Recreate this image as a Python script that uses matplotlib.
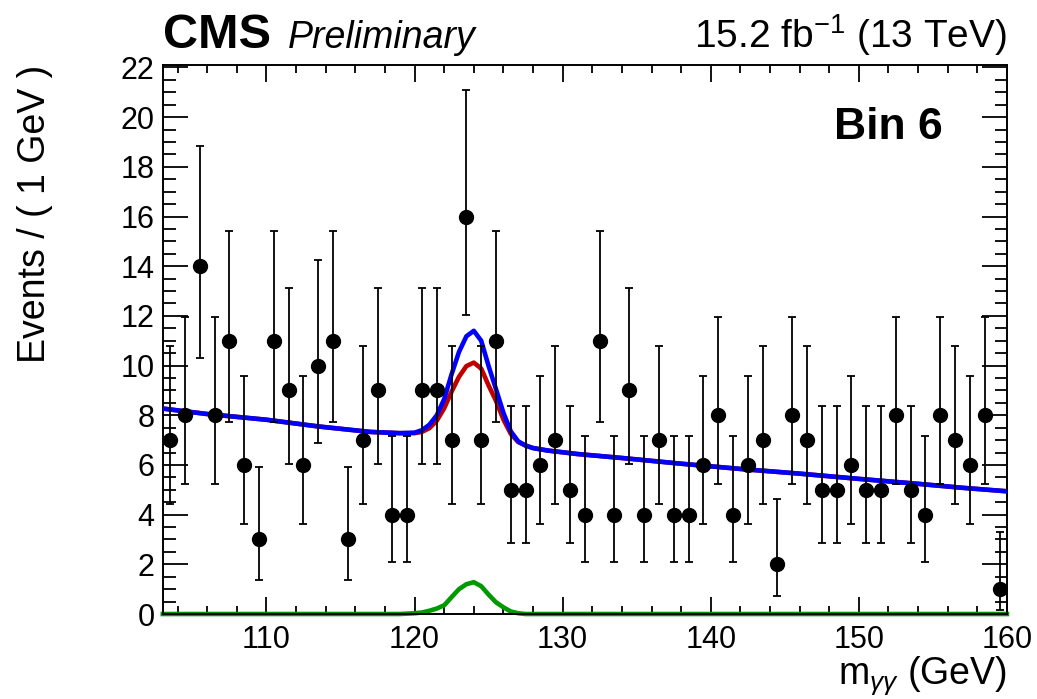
import math
import numpy as np
import matplotlib
matplotlib.use("Agg")
import matplotlib.pyplot as plt
from matplotlib.ticker import MultipleLocator

plt.rcParams['font.family'] = ['Liberation Sans', 'DejaVu Sans']
plt.rcParams['mathtext.fontset'] = 'custom'
plt.rcParams['mathtext.rm'] = 'Liberation Sans'
plt.rcParams['mathtext.it'] = 'Liberation Sans:italic'
plt.rcParams['mathtext.bf'] = 'Liberation Sans:bold'

# binned data: 1 GeV bins from 103 to 160
bin_lo, bin_hi = 103, 160
counts = [7, 8, 14, 8, 11, 6, 3, 11, 9, 6, 10, 11, 3, 7, 9, 4, 4, 9, 9, 7,
          16, 7, 11, 5, 5, 6, 7, 5, 4, 11, 4, 9, 4, 7, 4, 4, 6, 8, 4, 6,
          7, 2, 8, 7, 5, 5, 6, 5, 5, 8, 5, 4, 8, 7, 6, 8, 1]

# fit curves
curve_m = [103, 106, 110, 113.5, 117, 119, 120, 120.5, 121, 121.5, 122, 122.5,
           123, 123.5, 124, 124.5, 125, 125.5, 126, 126.5, 127, 127.5, 128,
           129, 131, 134, 138, 142, 146, 150, 154, 157, 160]
total_fit = [8.27, 8.05, 7.82, 7.55, 7.33, 7.28, 7.30, 7.40, 7.62, 8.00, 8.65,
             9.65, 10.55, 11.18, 11.40, 11.00, 9.98, 9.05, 8.10, 7.35, 6.95,
             6.78, 6.68, 6.58, 6.44, 6.28, 6.05, 5.84, 5.65, 5.44, 5.24, 5.08, 4.94]
partial_fit = [8.27, 8.05, 7.82, 7.55, 7.33, 7.28, 7.28, 7.33, 7.48, 7.78, 8.28,
               8.95, 9.55, 9.98, 10.12, 9.88, 9.20, 8.58, 7.83, 7.25, 6.92,
               6.78, 6.68, 6.58, 6.44, 6.28, 6.05, 5.84, 5.65, 5.44, 5.24, 5.08, 4.94]
signal_fit = [0, 0, 0, 0, 0, 0, 0.03, 0.06, 0.13, 0.22, 0.35, 0.68, 1.00, 1.20,
              1.28, 1.12, 0.78, 0.47, 0.27, 0.10, 0.03, 0, 0, 0, 0, 0, 0, 0,
              0, 0, 0, 0, 0]


def pois_cdf(k, mu):
    return sum(math.exp(-mu) * mu ** i / math.factorial(i) for i in range(k + 1))


def garwood(n, a=0.158655):
    # 68% central Poisson interval, like RooFit data points
    def solve(f):
        lo, hi = 0.0, 60.0
        for _ in range(80):
            mid = 0.5 * (lo + hi)
            if f(mid):
                hi = mid
            else:
                lo = mid
        return 0.5 * (lo + hi)
    low = 0.0 if n == 0 else solve(lambda mu: 1 - pois_cdf(n - 1, mu) > a)
    up = solve(lambda mu: pois_cdf(n, mu) < a)
    return n - low, up - n


centers = np.arange(bin_lo, bin_hi) + 0.5
errs = np.array([garwood(n) for n in counts]).T

fig = plt.figure(figsize=(10.37, 6.99), dpi=100)
ax = fig.add_axes([0.157, 0.1216, 0.814, 0.7854])

ax.plot(curve_m, signal_fit, color='#009900', lw=3.3, clip_on=False, zorder=2)
ax.plot(curve_m, partial_fit, color='#c00000', lw=3.3, zorder=3)
ax.plot(curve_m, total_fit, color='#0000ff', lw=3.3, zorder=4)
ax.errorbar(centers, counts, yerr=errs, fmt='o', color='black', ms=10,
            elinewidth=1.3, capsize=3, capthick=1.3, zorder=5)

ax.set_xlim(bin_lo, bin_hi)
ax.set_ylim(0, 22.1)
ax.xaxis.set_major_locator(MultipleLocator(10))
ax.xaxis.set_minor_locator(MultipleLocator(2))
ax.yaxis.set_major_locator(MultipleLocator(2))
ax.yaxis.set_minor_locator(MultipleLocator(0.5))
ax.tick_params(axis='x', which='both', direction='in', top=True, width=1.3,
               labelsize=22, pad=8)
ax.tick_params(axis='y', which='both', direction='in', right=True, width=1.3,
               labelsize=22, pad=6)
ax.tick_params(axis='x', which='major', length=12)
ax.tick_params(axis='x', which='minor', length=6)
ax.tick_params(axis='y', which='major', length=18)
ax.tick_params(axis='y', which='minor', length=9)
for s in ax.spines.values():
    s.set_linewidth(1.4)

fig.text(0.034, 0.907, 'Events / ( 1 GeV )', rotation=90, ha='center',
         va='top', fontsize=27)
fig.text(0.971, 0.034, r'm$_{\gamma\gamma}$ (GeV)', ha='right', va='center',
         fontsize=27)
fig.text(0.157, 0.932, 'CMS', fontsize=35, fontweight='bold', va='baseline')
fig.text(0.278, 0.932, 'Preliminary', fontsize=27, style='italic', va='baseline')
fig.text(0.971, 0.932, r'15.2 fb$^{-1}$ (13 TeV)', fontsize=28, ha='right',
         va='baseline')
ax.text(0.924, 0.865, 'Bin 6', transform=ax.transAxes, fontsize=32,
        fontweight='bold', ha='right', va='baseline')

fig.savefig('out.png', dpi=100)
